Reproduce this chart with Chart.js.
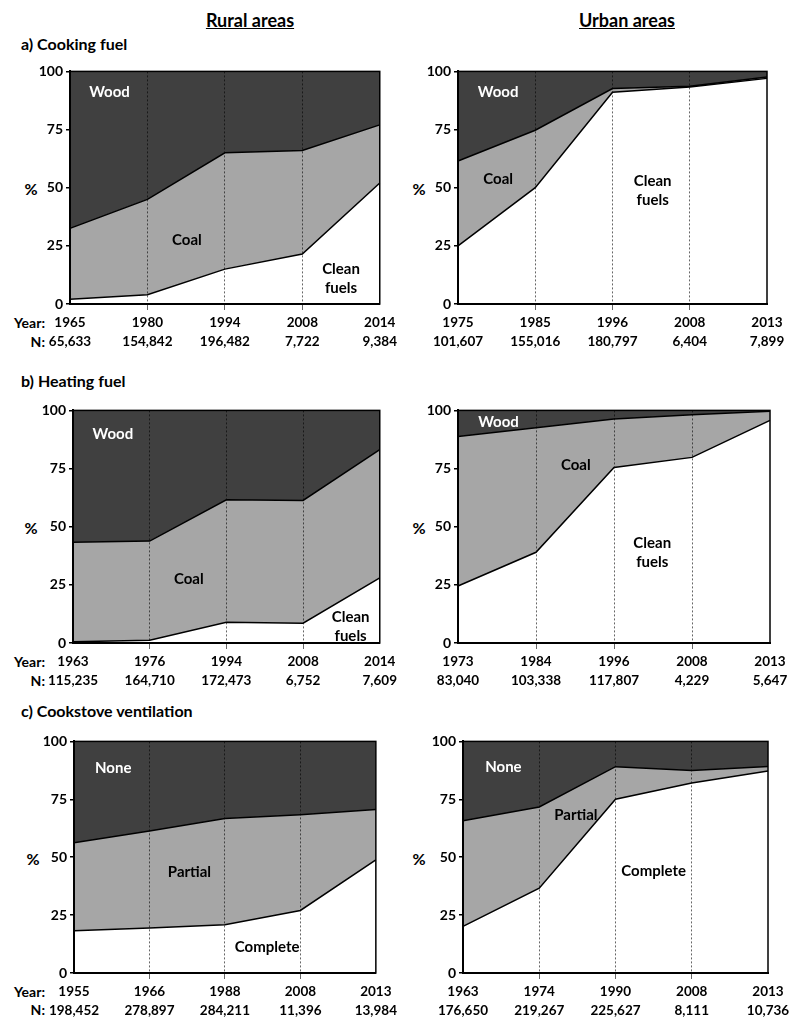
<!DOCTYPE html>
<html>
<head>
<meta charset="utf-8">
<script src="https://cdn.jsdelivr.net/npm/chart.js@4"></script>
<style>
  body { margin: 0; background: #fff; }
  #page { position: relative; width: 800px; height: 1029px; overflow: hidden; font-family: Lato, sans-serif; font-weight: bold; color: #000; }
  .t { position: absolute; white-space: nowrap; line-height: 1; }
  .c { transform: translate(-50%, -50%); }
  .l { transform: translateY(-50%); }
  .r { transform: translate(-100%, -50%); }
  canvas { position: absolute; }
</style>
</head>
<body>
<div id="page">
  <div class="t c" style="left:250px;top:20px;font-size:18px;text-decoration:underline">Rural areas</div>
  <div class="t c" style="left:627px;top:20px;font-size:18px;text-decoration:underline">Urban areas</div>

  <div class="t l" style="left:21px;top:44px;font-size:16px">a) Cooking fuel</div>
  <div class="t l" style="left:21px;top:381px;font-size:16px">b) Heating fuel</div>
  <div class="t l" style="left:21px;top:711px;font-size:16px">c) Cookstove ventilation</div>

  <div class="t c" style="left:31px;top:189px;font-size:16px">%</div>
  <div class="t c" style="left:419px;top:189px;font-size:16px">%</div>
  <div class="t c" style="left:31px;top:528px;font-size:16px">%</div>
  <div class="t c" style="left:419px;top:528px;font-size:16px">%</div>
  <div class="t c" style="left:33px;top:859px;font-size:16px">%</div>
  <div class="t c" style="left:419px;top:859px;font-size:16px">%</div>

  <div class="t r" style="left:45px;top:323px;font-size:14px">Year:</div>
  <div class="t r" style="left:45px;top:342px;font-size:14px">N:</div>
  <div class="t r" style="left:45px;top:662px;font-size:14px">Year:</div>
  <div class="t r" style="left:45px;top:681px;font-size:14px">N:</div>
  <div class="t r" style="left:45px;top:992px;font-size:14px">Year:</div>
  <div class="t r" style="left:45px;top:1010px;font-size:14px">N:</div>

  <canvas id="ruralCook" width="400" height="300" style="left:0;top:60px"></canvas>
  <canvas id="urbanCook" width="400" height="300" style="left:400px;top:60px"></canvas>
  <canvas id="ruralHeat" width="400" height="300" style="left:0;top:399px"></canvas>
  <canvas id="urbanHeat" width="400" height="300" style="left:400px;top:399px"></canvas>
  <canvas id="ruralVent" width="400" height="298" style="left:0;top:730px"></canvas>
  <canvas id="urbanVent" width="400" height="298" style="left:400px;top:730px"></canvas>
</div>

<script>
// a) cooking fuel, rural
const ruralCookYears = ['1965', '1980', '1994', '2008', '2014'];
const ruralCookN = ['65,633', '154,842', '196,482', '7,722', '9,384'];
const ruralCookClean = [2, 4, 15, 21.5, 52];
const ruralCookCoal = [30.5, 41, 50, 44.5, 25];
const ruralCookWood = [67.5, 55, 35, 34, 23];

// a) cooking fuel, urban
const urbanCookYears = ['1975', '1985', '1996', '2008', '2013'];
const urbanCookN = ['101,607', '155,016', '180,797', '6,404', '7,899'];
const urbanCookClean = [25, 50, 91, 93.3, 97];
const urbanCookCoal = [36.5, 24.7, 1.6, 0.3, 0.6];
const urbanCookWood = [38.5, 25.3, 7.4, 6.4, 2.4];

// b) heating fuel, rural
const ruralHeatYears = ['1963', '1976', '1994', '2008', '2014'];
const ruralHeatN = ['115,235', '164,710', '172,473', '6,752', '7,609'];
const ruralHeatClean = [0.5, 1.2, 8.9, 8.5, 28];
const ruralHeatCoal = [42.8, 42.6, 52.7, 52.8, 55.1];
const ruralHeatWood = [56.7, 56.2, 38.4, 38.7, 16.9];

// b) heating fuel, urban
const urbanHeatYears = ['1973', '1984', '1996', '2008', '2013'];
const urbanHeatN = ['83,040', '103,338', '117,807', '4,229', '5,647'];
const urbanHeatClean = [24.5, 39, 75.5, 79.8, 95.7];
const urbanHeatCoal = [64.3, 53.5, 20.8, 18.3, 3.9];
const urbanHeatWood = [11.2, 7.5, 3.7, 1.9, 0.4];

// c) cookstove ventilation, rural
const ruralVentYears = ['1955', '1966', '1988', '2008', '2013'];
const ruralVentN = ['198,452', '278,897', '284,211', '11,396', '13,984'];
const ruralVentComplete = [18.2, 19.4, 20.8, 27, 48.8];
const ruralVentPartial = [38, 41.9, 45.9, 41.3, 21.8];
const ruralVentNone = [43.8, 38.7, 33.3, 31.7, 29.4];

// c) cookstove ventilation, urban
const urbanVentYears = ['1963', '1974', '1990', '2008', '2013'];
const urbanVentN = ['176,650', '219,267', '225,627', '8,111', '10,736'];
const urbanVentComplete = [20.1, 36.6, 75, 82, 87.2];
const urbanVentPartial = [45.6, 35.1, 14.1, 5.4, 2];
const urbanVentNone = [34.3, 28.3, 10.9, 12.6, 10.8];

const yTicks = [0, 25, 50, 75, 100];

Chart.defaults.font.family = 'Lato, sans-serif';
Chart.defaults.font.weight = 'bold';
Chart.defaults.color = '#000';

function makePanel(id, years, n, low, mid, high, texts, box) {
  const frame = {
    id: 'frame',
    afterDraw(chart) {
      const a = chart.chartArea, ctx = chart.ctx;
      ctx.save();
      ctx.strokeStyle = '#000';
      ctx.lineWidth = 1.5;
      ctx.strokeRect(a.left, a.top, a.right - a.left, a.bottom - a.top);
      ctx.restore();
    }
  };
  const areaText = {
    id: 'areaText',
    afterDraw(chart) {
      const ctx = chart.ctx, xs = chart.scales.x, ys = chart.scales.y;
      ctx.save();
      ctx.font = 'bold 15px Lato, sans-serif';
      ctx.textAlign = 'center';
      ctx.textBaseline = 'middle';
      texts.forEach(t => {
        const px = xs.getPixelForValue(t.x);
        const py = ys.getPixelForValue(t.y);
        ctx.fillStyle = t.color;
        t.lines.forEach((s, i) => ctx.fillText(s, px, py + i * 19));
      });
      ctx.restore();
    }
  };

  new Chart(document.getElementById(id), {
    type: 'line',
    data: {
      labels: years.map((y, i) => [y, n[i]]),
      datasets: [
        { data: low, fill: 'origin', backgroundColor: '#ffffff', borderColor: '#000', borderWidth: 1.5 },
        { data: mid, fill: '-1', backgroundColor: '#a6a6a6', borderColor: '#000', borderWidth: 1.5 },
        { data: high, fill: '-1', backgroundColor: '#404040', borderColor: '#000', borderWidth: 0 }
      ]
    },
    options: {
      responsive: false,
      animation: false,
      elements: { point: { radius: 0 }, line: { tension: 0 } },
      layout: { padding: { top: 11, right: box.right, left: 0, bottom: 0 } },
      plugins: { legend: { display: false }, tooltip: { enabled: false } },
      scales: {
        x: {
          offset: false,
          grid: {
            z: 1,
            color: c => (c.index > 0 && c.index < years.length - 1) ? 'rgba(0,0,0,0.6)' : 'rgba(0,0,0,0)',
            lineWidth: 1,
            tickLength: 6
          },
          border: { z: 2, color: '#000', width: 2, dash: [2, 2] },
          ticks: { padding: 3, maxRotation: 0, autoSkip: false, font: { size: 13.5, weight: 'bold', lineHeight: 1.4 } },
          afterFit: s => { s.height = box.xh; }
        },
        y: {
          stacked: true,
          min: 0,
          max: 100,
          afterBuildTicks: s => { s.ticks = yTicks.map(v => ({ value: v })); },
          grid: { drawOnChartArea: false, drawTicks: true, tickLength: 4, color: '#000', lineWidth: 1.5 },
          border: { z: 2, color: '#000', width: 2 },
          ticks: { padding: 3, font: { size: 14, weight: 'bold' } },
          afterFit: s => { s.width = box.yw; }
        }
      }
    },
    plugins: [frame, areaText]
  });
}

makePanel('ruralCook', ruralCookYears, ruralCookN, ruralCookClean, ruralCookCoal, ruralCookWood, [
  { lines: ['Wood'], x: 0.51, y: 91, color: '#fff' },
  { lines: ['Coal'], x: 1.51, y: 27.5, color: '#000' },
  { lines: ['Clean', 'fuels'], x: 3.5, y: 15, color: '#000' }
], { yw: 70, right: 18, xh: 56 });

makePanel('urbanCook', urbanCookYears, urbanCookN, urbanCookClean, urbanCookCoal, urbanCookWood, [
  { lines: ['Wood'], x: 0.52, y: 91, color: '#fff' },
  { lines: ['Coal'], x: 0.52, y: 53.6, color: '#000' },
  { lines: ['Clean', 'fuels'], x: 2.52, y: 52.8, color: '#000' }
], { yw: 58, right: 33, xh: 56 });

makePanel('ruralHeat', ruralHeatYears, ruralHeatN, ruralHeatClean, ruralHeatCoal, ruralHeatWood, [
  { lines: ['Wood'], x: 0.52, y: 90, color: '#fff' },
  { lines: ['Coal'], x: 1.51, y: 27.5, color: '#000' },
  { lines: ['Clean', 'fuels'], x: 3.62, y: 11.2, color: '#000' }
], { yw: 73, right: 18, xh: 56 });

makePanel('urbanHeat', urbanHeatYears, urbanHeatN, urbanHeatClean, urbanHeatCoal, urbanHeatWood, [
  { lines: ['Wood'], x: 0.52, y: 94.8, color: '#fff' },
  { lines: ['Coal'], x: 1.51, y: 76.4, color: '#000' },
  { lines: ['Clean', 'fuels'], x: 2.49, y: 42.9, color: '#000' }
], { yw: 58, right: 30, xh: 56 });

makePanel('ruralVent', ruralVentYears, ruralVentN, ruralVentComplete, ruralVentPartial, ruralVentNone, [
  { lines: ['None'], x: 0.52, y: 88.4, color: '#fff' },
  { lines: ['Partial'], x: 1.53, y: 43.5, color: '#000' },
  { lines: ['Complete'], x: 2.56, y: 11.2, color: '#000' }
], { yw: 74, right: 21, xh: 55 });

makePanel('urbanVent', urbanVentYears, urbanVentN, urbanVentComplete, urbanVentPartial, urbanVentNone, [
  { lines: ['None'], x: 0.53, y: 88.8, color: '#fff' },
  { lines: ['Partial'], x: 1.48, y: 68.1, color: '#000' },
  { lines: ['Complete'], x: 2.5, y: 44, color: '#000' }
], { yw: 63, right: 32, xh: 55 });
</script>
</body>
</html>
